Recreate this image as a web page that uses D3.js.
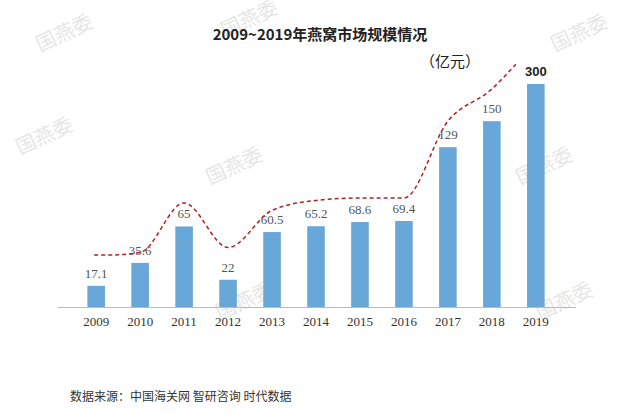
<!DOCTYPE html>
<html>
<head>
<meta charset="utf-8">
<script src="https://d3js.org/d3.v7.min.js"></script>
<style>body{margin:0;background:#fff}</style>
</head>
<body>
<div id="chart"></div>
<script>
var years = ["2009","2010","2011","2012","2013","2014","2015","2016","2017","2018","2019"];
var sizes = [17.1, 35.6, 65, 22, 60.5, 65.2, 68.6, 69.4, 129, 150, 300];
var labels = ["17.1","35.6","65","22","60.5","65.2","68.6","69.4","129","150","300"];
// dashed trend line (same units as bars)
var trend = [42, 44, 84, 48, 78, 86, 88, 88, 150, 176, 196];
var marks = [[40,52,"国燕委"],[225,38,"国燕委"],[555,52,"国燕委"],[20,155,"国燕委"],[210,185,"国燕委"],[520,185,"国燕委"],[220,320,"国燕委"],[540,320,"国燕委"]];

var W = 640, H = 420, base = 307;
var svg = d3.select("#chart").append("svg").attr("width", W).attr("height", H);

// watermarks
svg.selectAll(".wm").data(marks).enter().append("text")
  .attr("transform", function(d){ return "translate(" + d[0] + "," + d[1] + ") rotate(-25)"; })
  .attr("font-family", "Noto Sans CJK SC").attr("font-size", 20)
  .attr("fill", "#e6e6e6").text(function(d){ return d[2]; });

var x = d3.scaleBand().domain(years).range([61, 571]).padding(0.6);
var y = d3.scaleLinear().domain([0, 180]).range([base, 84]).clamp(true);
var yLine = d3.scaleLinear().domain([0, 180]).range([base, 84]);

svg.append("text").attr("x", 320).attr("y", 40).attr("text-anchor", "middle")
  .attr("font-family", "Noto Sans CJK SC").attr("font-weight", "bold").attr("font-size", 15)
  .attr("fill", "#222").text("2009~2019年燕窝市场规模情况");
svg.append("text").attr("x", 420).attr("y", 67)
  .attr("font-family", "Noto Sans CJK SC").attr("font-size", 15)
  .attr("fill", "#222").text("（亿元）");

svg.selectAll(".bar").data(sizes).enter().append("rect")
  .attr("x", function(d,i){ return x(years[i]); })
  .attr("y", function(d){ return y(d); })
  .attr("width", x.bandwidth())
  .attr("height", function(d){ return base - y(d); })
  .attr("fill", "#6aa7d9");

svg.selectAll(".val").data(labels).enter().append("text")
  .attr("x", function(d,i){ return x(years[i]) + x.bandwidth()/2; })
  .attr("y", function(d,i){ return y(sizes[i]) - 8; })
  .attr("text-anchor", "middle")
  .attr("font-family", function(d,i){ return i == 10 ? "Liberation Sans" : "Liberation Serif"; })
  .attr("font-weight", function(d,i){ return i == 10 ? "bold" : "normal"; })
  .attr("font-size", 13).attr("fill", function(d,i){ return i == 10 ? "#222" : "#555"; })
  .text(function(d){ return d; });

var ax = svg.append("g").attr("transform", "translate(0," + base + ")")
  .call(d3.axisBottom(x).tickSize(0).tickPadding(10));
ax.select(".domain").attr("stroke", "#bbb").attr("d", "M58,0.5H576");
ax.selectAll("text").attr("font-family", "Liberation Serif").attr("font-size", 13).attr("fill", "#333");

var pts = trend.map(function(d,i){ return [x(years[i]) + x.bandwidth()/2, yLine(d)]; });
pts[0][0] -= 2; pts[10][0] -= 20;
pts.splice(1, 0, [pts[0][0] + 16, yLine(42)]);
svg.append("path").datum(pts)
  .attr("d", d3.line().curve(d3.curveMonotoneX))
  .attr("fill", "none").attr("stroke", "#b22222").attr("stroke-width", 1.5)
  .attr("stroke-dasharray", "4,3");

svg.append("text").attr("x", 70).attr("y", 401)
  .attr("font-family", "Noto Sans CJK SC").attr("font-size", 12).attr("fill", "#333")
  .text("数据来源：中国海关网 智研咨询  时代数据");
</script>
</body>
</html>
